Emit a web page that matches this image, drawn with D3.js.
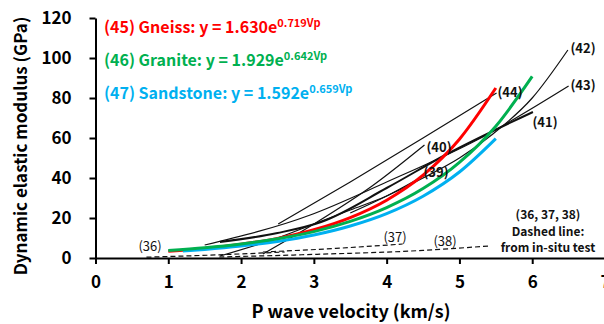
<!DOCTYPE html>
<html>
<head>
<meta charset="utf-8">
<script src="https://cdn.jsdelivr.net/npm/d3@7"></script>
<style>
  body { margin: 0; background: #fff; }
  text { font-family: "Noto Sans CJK KR", "Open Sans", sans-serif; }
</style>
</head>
<body>
<svg id="chart" width="604" height="324"></svg>
<script>
// axis ticks
var xTicks = [0, 1, 2, 3, 4, 5, 6, 7];
var yTicks = [0, 20, 40, 60, 80, 100, 120];

// fitted curves: [Vp, E]
var gneiss = [[1.0, 3.4], [1.5, 4.8], [2.0, 6.9], [2.5, 9.8], [3.0, 14.1], [3.5, 20.2],
              [4.0, 28.9], [4.5, 41.4], [5.0, 59.4], [5.5, 85.0]];
var granite = [[1.0, 3.7], [1.5, 5.1], [2.0, 7.0], [2.5, 9.6], [3.0, 13.2], [3.5, 18.3],
               [4.0, 25.2], [4.5, 34.7], [5.0, 47.8], [5.5, 65.9], [6.0, 90.8]];
var sandstone = [[1.2, 3.5], [1.5, 4.3], [2.0, 6.0], [2.5, 8.3], [3.0, 11.5], [3.5, 16.0],
                 [4.0, 22.2], [4.5, 30.9], [5.0, 43.0], [5.5, 59.7]];

// other relations (black), solid
var rel39 = [[3.5, 22.5], [4.0, 31], [4.53, 41.5]];
var rel40 = [[2.3, 2], [3.0, 17], [3.8, 36], [4.52, 56.5]];
var rel41 = [[1.71, 8], [2.5, 12.5], [3.1, 18], [4.0, 35], [4.83, 52], [6.01, 73]];
var rel42 = [[1.71, 1], [2.5, 10], [3.0, 17], [3.5, 24], [4.0, 31], [4.5, 40], [5.0, 50],
             [5.46, 62], [6.0, 80], [6.49, 104]];
var rel43 = [[1.5, 6.5], [2.95, 21.5], [4.0, 38], [5.24, 59], [6.5, 86]];
var rel44 = [[2.51, 17], [3.5, 38], [4.5, 60], [5.51, 82.5]];
// in-situ (dashed)
var rel36 = [[0.7, 0.4], [1.7, 1.6], [2.6, 3.0]];
var rel37 = [[2.3, 3.0], [3.3, 4.8], [4.22, 7.0]];
var rel38 = [[1.7, 0.5], [3.0, 1.8], [4.5, 3.8], [5.4, 6.0]];

var svg = d3.select('#chart');
var x = d3.scaleLinear().domain([0, 7]).range([95.5, 605]);
var y = d3.scaleLinear().domain([0, 120]).range([258, 18]);

var line = d3.line()
    .x(d => x(d[0]))
    .y(d => y(d[1]))
    .curve(d3.curveMonotoneX);

// axes
var xAxis = svg.append('g')
    .attr('transform', 'translate(0,' + y(0) + ')')
    .call(d3.axisBottom(x).tickValues(xTicks).tickFormat(d3.format('d'))
        .tickSize(6).tickSizeOuter(0).tickPadding(12));
var yAxis = svg.append('g')
    .attr('transform', 'translate(' + x(0) + ',0)')
    .call(d3.axisLeft(y).tickValues(yTicks).tickFormat(d3.format('d'))
        .tickSize(6).tickSizeOuter(0).tickPadding(18));

[xAxis, yAxis].forEach(a => {
    a.select('.domain').attr('stroke', '#000').attr('stroke-width', 2);
    a.selectAll('.tick line').attr('stroke', '#000').attr('stroke-width', 2);
    a.selectAll('.tick text')
        .attr('font-family', '"Noto Sans CJK KR", "Open Sans", sans-serif')
        .attr('font-size', 17).attr('font-weight', 'bold').attr('fill', '#000');
});

// black lines
var solid = [rel39, rel40, rel42, rel43, rel44];
svg.append('g')
    .selectAll('path')
    .data(solid)
    .join('path')
    .attr('d', line)
    .attr('fill', 'none')
    .attr('stroke', '#111')
    .attr('stroke-width', 1.2);

svg.append('path')
    .attr('d', line(rel41))
    .attr('fill', 'none')
    .attr('stroke', '#111')
    .attr('stroke-width', 2);

svg.append('g')
    .selectAll('path')
    .data([rel36, rel37, rel38])
    .join('path')
    .attr('d', line)
    .attr('fill', 'none')
    .attr('stroke', '#111')
    .attr('stroke-width', 1.2)
    .attr('stroke-dasharray', '5,3');

// fitted curves
var fits = [
    { data: gneiss, color: '#ff0000' },
    { data: sandstone, color: '#00b0f0' },
    { data: granite, color: '#00b050' },
];
svg.append('g')
    .selectAll('path')
    .data(fits)
    .join('path')
    .attr('d', d => line(d.data))
    .attr('fill', 'none')
    .attr('stroke', d => d.color)
    .attr('stroke-width', 3);

// legend equations
var eqs = [
    { lab: '(45) Gneiss: y = 1.630e', sup: '0.719Vp', color: '#ff0000', y: 33 },
    { lab: '(46) Granite: y = 1.929e', sup: '0.642Vp', color: '#00b050', y: 66 },
    { lab: '(47) Sandstone: y = 1.592e', sup: '0.659Vp', color: '#00b0f0', y: 99 },
];
eqs.forEach(e => {
    var t = svg.append('text')
        .attr('x', 104).attr('y', e.y)
        .attr('fill', e.color)
        .attr('font-weight', 'bold')
        .attr('font-size', 16)
        .attr('xml:space', 'preserve');
    t.append('tspan').text(e.lab);
    t.append('tspan').attr('font-size', 11).attr('dy', -6).text(e.sup);
});

// curve labels
var labels = [
    { t: '(36)', x: 150, y: 251, w: 'normal' },
    { t: '(37)', x: 395, y: 242, w: 'normal' },
    { t: '(38)', x: 445, y: 246, w: 'normal' },
    { t: '(39)', x: 436, y: 177, w: 'bold' },
    { t: '(40)', x: 439, y: 152, w: 'bold' },
    { t: '(41)', x: 545, y: 127, w: 'bold' },
    { t: '(42)', x: 583, y: 53, w: 'bold' },
    { t: '(43)', x: 583, y: 90, w: 'bold' },
    { t: '(44)', x: 510, y: 97, w: 'bold' },
];
svg.append('g')
    .selectAll('text')
    .data(labels)
    .join('text')
    .attr('x', d => d.x).attr('y', d => d.y)
    .attr('text-anchor', 'middle')
    .attr('font-size', 13)
    .attr('font-weight', d => d.w)
    .attr('fill', '#111')
    .text(d => d.t);

var note = ['(36, 37, 38)', 'Dashed line:', 'from in-situ test'];
svg.append('g')
    .selectAll('text')
    .data(note)
    .join('text')
    .attr('x', 548)
    .attr('y', (d, i) => 219 + i * 16.5)
    .attr('text-anchor', 'middle')
    .attr('font-family', '"Open Sans", sans-serif')
    .attr('font-size', 12)
    .attr('font-weight', 'bold')
    .attr('fill', '#111')
    .text(d => d);

// axis titles
svg.append('text')
    .attr('x', 351).attr('y', 318)
    .attr('text-anchor', 'middle')
    .attr('font-size', 18).attr('font-weight', 'bold')
    .text('P wave velocity (km/s)');
svg.append('text')
    .attr('transform', 'translate(27,146) rotate(-90)')
    .attr('text-anchor', 'middle')
    .attr('font-size', 17).attr('font-weight', 'bold')
    .text('Dynamic elastic modulus (GPa)');
</script>
</body>
</html>
